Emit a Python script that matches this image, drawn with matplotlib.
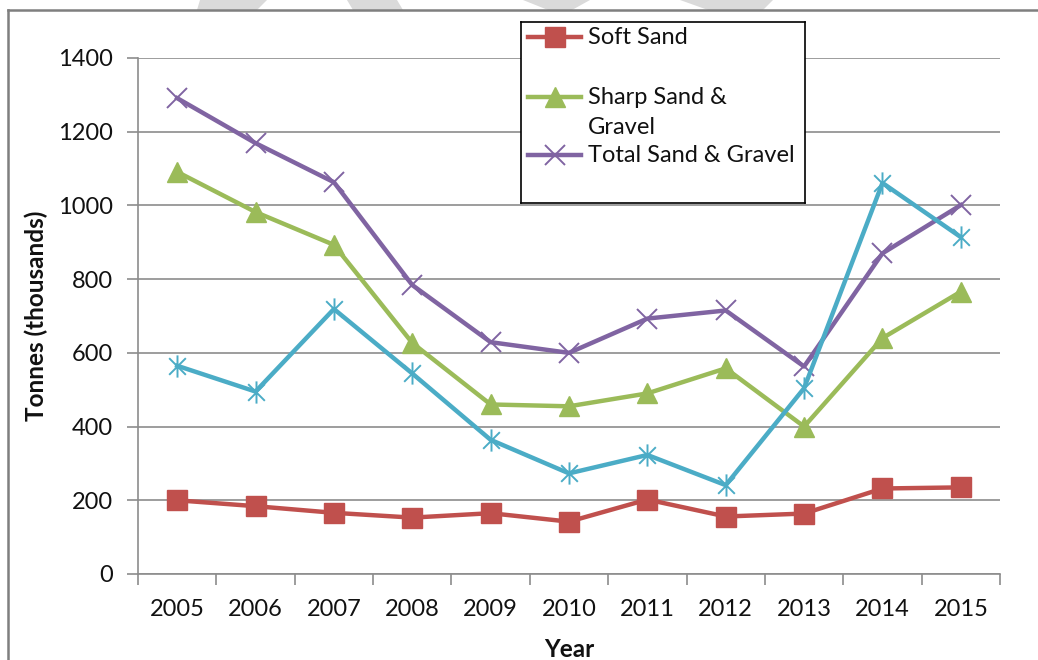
import numpy as np
import matplotlib
matplotlib.use("Agg")
import matplotlib.pyplot as plt
from matplotlib.lines import Line2D
from matplotlib.patches import Polygon
from matplotlib.path import Path

# ------------------------- data ------------------------------------
years = ["2005", "2006", "2007", "2008", "2009", "2010",
         "2011", "2012", "2013", "2014", "2015"]
soft_sand = [200, 184, 166, 153, 165, 142, 202, 156, 164, 232, 235]
sharp_sand_gravel = [1091, 982, 893, 627, 460, 455, 490, 558, 400, 640, 766]
total_sand_gravel = [1291, 1169, 1063, 784, 629, 600, 693, 715, 563, 870, 1001]
fourth_series = [565, 495, 719, 544, 364, 273, 323, 241, 504, 1061, 914]

y_ticks = [0, 200, 400, 600, 800, 1000, 1200, 1400]
legend_labels = ["Soft Sand", "Sharp Sand &\nGravel", "Total Sand & Gravel"]

RED = "#C0504D"
GREEN = "#9BBB59"
PURPLE = "#8064A2"
CYAN = "#4BACC6"
GRID = "#8C8C8C"
TXT = "#111111"

plt.rcParams["font.family"] = ["Lato", "DejaVu Sans"]

W, H = 1038, 660
fig = plt.figure(figsize=(W / 100, H / 100), dpi=100)

def fx(px):
    return px / W

def fy(py):
    return 1 - py / H

# ------------------------- frame & watermark ------------------------
wm = [
    [(200, 0), (267, 0), (257, 10), (197, 10)],
    [(347, 0), (397, 0), (403, 10), (353, 10)],
    [(523, 0), (590, 0), (572, 10), (548, 10)],
    [(680, 0), (773, 0), (763, 10), (708, 10)],
]
for poly in wm:
    fig.add_artist(Polygon([(fx(a), fy(b)) for a, b in poly], closed=True,
                           transform=fig.transFigure, facecolor="#DADADA",
                           edgecolor="none", zorder=0))
fig.add_artist(Line2D([fx(8), 1], [fy(10), fy(10)], transform=fig.transFigure,
                      color="#7F7F7F", lw=1.8))
fig.add_artist(Line2D([fx(8), fx(8)], [fy(10), 0], transform=fig.transFigure,
                      color="#7F7F7F", lw=1.8))

# ------------------------- main axes --------------------------------
ax = fig.add_axes([fx(138), fy(574), fx(1000) - fx(138), fy(58) - fy(574)])
x = np.arange(len(years))

# Excel style asterisk marker: vertical bar plus an X
star = Path([(0, -1), (0, 1), (-0.75, -0.75), (0.75, 0.75), (-0.75, 0.75), (0.75, -0.75)],
            [Path.MOVETO, Path.LINETO, Path.MOVETO, Path.LINETO, Path.MOVETO, Path.LINETO])

ax.plot(x, soft_sand, color=RED, lw=3.2, marker="s", ms=14, mec=RED, mfc=RED, zorder=3)
ax.plot(x, sharp_sand_gravel, color=GREEN, lw=3.2, marker="^", ms=15, mec=GREEN, mfc=GREEN, zorder=3)
ax.plot(x, total_sand_gravel, color=PURPLE, lw=3.2, marker="x", ms=15, mew=1.4, mec=PURPLE, zorder=3)
ax.plot(x, fourth_series, color=CYAN, lw=3.2, marker=star, ms=16, mew=1.4, mec=CYAN, zorder=3)

ax.set_xlim(-0.5, len(years) - 0.5)
ax.set_ylim(0, 1400)
ax.set_yticks(y_ticks)
ax.set_yticklabels([str(v) for v in y_ticks], fontsize=17, color=TXT)
ax.set_xticks(x)
ax.set_xticklabels(years, fontsize=17, color=TXT)
ax.set_xticks(np.arange(-0.5, len(years)), minor=True)
ax.tick_params(axis="x", which="major", length=0, pad=18)
ax.tick_params(axis="x", which="minor", length=8, width=1.2, color=GRID)
ax.tick_params(axis="y", length=8, width=1.2, color=GRID, pad=10)

ax.yaxis.grid(True, color=GRID, lw=1.2)
ax.set_axisbelow(True)
for s in ["top", "right"]:
    ax.spines[s].set_visible(False)
for s in ["left", "bottom"]:
    ax.spines[s].set_color(GRID)
    ax.spines[s].set_linewidth(1.2)

ax.set_ylabel("Tonnes (thousands)", fontsize=17.5, fontweight="bold", labelpad=7, color=TXT)
ax.set_xlabel("Year", fontsize=17.5, fontweight="bold", labelpad=13, color=TXT)

# ------------------------- legend box -------------------------------
lax = fig.add_axes([fx(521), fy(203), fx(805) - fx(521), fy(22) - fy(203)])
lax.set_xlim(0, 284)
lax.set_ylim(181, 0)
lax.set_xticks([]); lax.set_yticks([])
for s in lax.spines.values():
    s.set_color("#000000")
    s.set_linewidth(1.2)

handles = [
    dict(color=RED, marker="s", ms=14, y=15),
    dict(color=GREEN, marker="^", ms=14, y=75),
    dict(color=PURPLE, marker="x", ms=15, y=133),
]
for h, lab in zip(handles, legend_labels):
    lax.plot([7, 60], [h["y"], h["y"]], color=h["color"], lw=3.2)
    lax.plot([33.5], [h["y"]], marker=h["marker"], ms=h["ms"], color=h["color"],
             mew=1.4 if h["marker"] == "x" else 1)
    for i, line in enumerate(lab.split("\n")):
        lax.text(67, h["y"] + 30 * i, line, fontsize=17, va="center", ha="left", color=TXT)

fig.savefig("out.png", dpi=100)
